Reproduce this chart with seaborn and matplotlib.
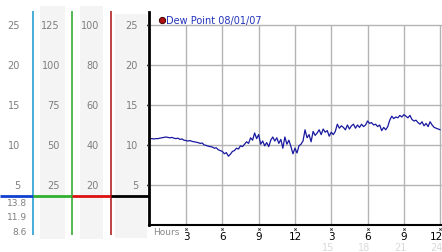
import numpy as np
import pandas as pd
import matplotlib
matplotlib.use("Agg")
import matplotlib.pyplot as plt
import matplotlib.transforms as mtransforms
from matplotlib.lines import Line2D
import seaborn as sns

# ---- data ----
dew_point = [
    10.8, 10.8, 10.75, 10.8, 10.8, 10.85,
    10.9, 10.95, 11.0, 10.95, 10.9, 10.95,
    10.85, 10.8, 10.85, 10.7, 10.75, 10.6,
    10.55, 10.5, 10.55, 10.45, 10.4, 10.35,
    10.3, 10.2, 10.25, 10.0, 9.95, 9.85,
    9.8, 9.75, 9.6, 9.65, 9.4, 9.3,
    9.2, 8.9, 9.05, 8.6, 8.85, 9.2,
    9.3, 9.6, 9.5, 9.9, 9.8, 10.1,
    10.4, 10.2, 10.9, 10.6, 11.5, 10.8,
    11.3, 10.1, 10.5, 9.9, 10.3, 9.8,
    10.6, 11.0, 10.5, 10.9, 10.2, 10.7,
    9.6, 11.0, 10.1, 10.6, 9.8, 8.9,
    9.6, 9.0, 9.9, 10.1, 10.5, 11.9,
    10.9, 11.3, 10.4, 11.7, 11.2, 11.5,
    11.9, 11.3, 12.0, 11.6, 11.8, 11.1,
    11.6, 11.3, 11.7, 12.6, 12.1, 12.4,
    12.2, 11.9, 12.5, 12.0, 12.4, 12.6,
    12.1, 12.5, 12.2, 12.6, 12.3, 12.5,
    13.0, 12.7, 12.8, 12.5, 12.6, 12.3,
    12.5, 11.8, 12.2, 11.9, 12.3, 13.1,
    13.6, 13.3, 13.5, 13.4, 13.7, 13.5,
    13.8, 13.6, 13.4, 13.7, 13.2, 13.0,
    13.1, 12.8, 12.6, 12.9, 12.4, 12.7,
    12.3, 12.9, 12.5, 12.2, 12.1, 12.0,
    11.9,
]
hours = [i / 6 for i in range(len(dew_point))]
x_ticks = [3, 6, 9, 12, 15, 18, 21, 24]
x_labels = ["3", "6", "9", "12", "3", "6", "9", "12"]
x_labels2 = ["", "", "", "", "15", "18", "21", "24"]
y_ticks = [5, 10, 15, 20, 25]
scale2 = [25, 50, 75, 100, 125]
scale3 = [20, 40, 60, 80, 100]
legend_label = "Dew Point 08/01/07"

df = pd.DataFrame({"hours": hours, "dew": dew_point})

sns.set_style("white")
plt.rcParams["font.family"] = ["DejaVu Sans"]

W, H = 442, 253
fig = plt.figure(figsize=(W / 100, H / 100), dpi=100)

# main axes: y px 13..226, x px 149..442
ax = fig.add_axes([149 / W, 27 / H, 293 / W, 213 / H])
ax.set_xlim(-0.06, 24.15)
ax.set_ylim(0, 213 / 8)

grid_c = "#b4b4b4"
for yv in y_ticks:
    ax.axhline(yv, color=grid_c, lw=1, zorder=0)
ax.vlines(x_ticks, 0, 25, color=grid_c, lw=1, zorder=0)

sns.lineplot(data=df, x="hours", y="dew", ax=ax, color="#1818a0", lw=0.9)
ax.set_xlabel("")
ax.set_ylabel("")

for s in ["top", "right"]:
    ax.spines[s].set_visible(False)
ax.spines["left"].set_linewidth(2)
ax.spines["left"].set_color("black")
ax.spines["bottom"].set_linewidth(1.5)
ax.spines["bottom"].set_color("black")

ax.set_yticks([])
ax.set_xticks(x_ticks)
ax.set_xticklabels(x_labels, fontsize=7.5, color="black")
ax.tick_params(axis="x", length=0, pad=4)
last = ax.get_xticklabels()[-1]
last.set_ha("right")
last.set_transform(last.get_transform() +
                   mtransforms.ScaledTranslation(3 / 100, 0, fig.dpi_scale_trans))

# tiny markers
ax.scatter(x_ticks, [-0.5] * len(x_ticks), marker="x", s=3, lw=0.6,
           color="#333333", clip_on=False, zorder=5)
ax.scatter([-0.2] * len(y_ticks), y_ticks, marker="x", s=3, lw=0.6,
           color="#333333", clip_on=False, zorder=5)

for xv, lab in zip(x_ticks, x_labels2):
    if lab:
        ax.text(min(xv - 0.25, 23.7), -2.8, lab, fontsize=7, color="#dadada",
                ha="center", va="center", clip_on=False)
ax.text(0.25, -0.8, "Hours", fontsize=6.5, color="#8a8a8a", ha="left",
        va="center", clip_on=False)

handle = Line2D([], [], marker="o", ls="", markersize=4.5,
                markerfacecolor="#b01010", markeredgecolor="#400000",
                markeredgewidth=0.7)
leg = ax.legend([handle], [legend_label], loc="center left",
                bbox_to_anchor=(0.03, (226 - 21) / 8 / (213 / 8)),
                frameon=False, fontsize=7, handletextpad=0.05,
                handlelength=0.8, borderaxespad=0, borderpad=0)
for t in leg.get_texts():
    t.set_color("#2233bb")

# left scale panel
lax = fig.add_axes([0, 0, 149 / W, 1])
lax.set_xlim(0, 149)
lax.set_ylim(-27 / 8, 226 / 8)
lax.axis("off")

shade = "#f4f4f4"
lax.axvspan(40, 65, ymin=13 / H, ymax=246 / H, color=shade, lw=0, zorder=0)
lax.axvspan(80, 103, ymin=13 / H, ymax=246 / H, color=shade, lw=0, zorder=0)
lax.axvspan(115, 147, ymin=14 / H, ymax=238 / H, color=shade, lw=0, zorder=0)

lab_c = "#7e7e7e"
for yv, v2, v3 in zip(y_ticks, scale2, scale3):
    lax.text(20, yv, str(yv), ha="right", va="center", fontsize=7, color=lab_c)
    lax.text(60, yv, str(v2), ha="right", va="center", fontsize=7, color=lab_c)
    lax.text(99, yv, str(v3), ha="right", va="center", fontsize=7, color=lab_c)
    lax.text(138, yv, str(yv), ha="right", va="center", fontsize=7, color=lab_c)

y_top = (226 - 12) / 8
y_bot = (226 - 236) / 8
lax.vlines(33, y_bot, y_top, color="#2a9fd0", lw=1.2)
lax.vlines(72, y_bot, y_top, color="#3aaa35", lw=1.2)
lax.vlines(111, y_bot, y_top, color="#b22222", lw=1.2)

y_sep = (226 - 197) / 8
lax.hlines(y_sep, 0, 33, color="#1040d0", lw=2)
lax.hlines(y_sep, 33, 72, color="#30b030", lw=2)
lax.hlines(y_sep, 72, 111, color="#dd1111", lw=2)
lax.hlines(y_sep, 111, 149, color="black", lw=2)

stats = [max(dew_point), dew_point[-1], min(dew_point)]
for i, sv in enumerate(stats):
    lax.text(27, (226 - (203.5 + 14.3 * i)) / 8, f"{sv:.1f}", ha="right",
             va="center", fontsize=6.5, color=lab_c)

fig.savefig("out.png", dpi=100)
